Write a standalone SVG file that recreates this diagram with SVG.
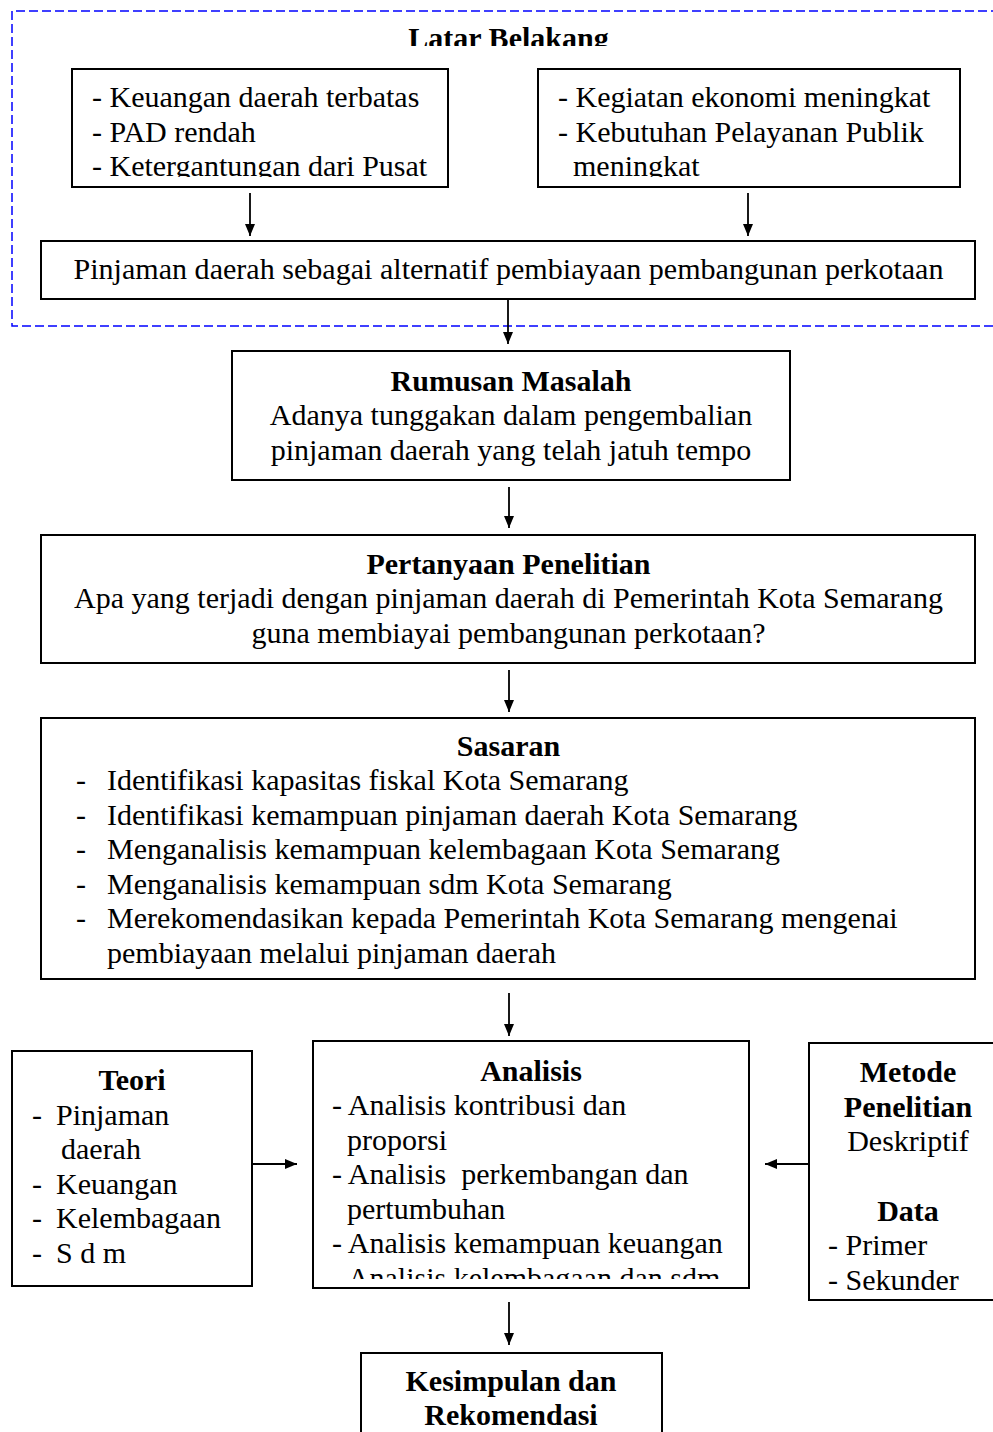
<svg xmlns="http://www.w3.org/2000/svg" width="993" height="1432" viewBox="0 0 993 1432">
<style>
text{font-family:"Liberation Serif","Times New Roman",serif;font-size:30px;fill:#000}
.b{font-weight:bold}
.c{text-anchor:middle}
.box{fill:#fff;stroke:#000;stroke-width:2}
.dash{fill:none;stroke:#0000ff;stroke-width:1.5;stroke-dasharray:9 4}
.arr{stroke:#000;stroke-width:1.8;fill:none;marker-end:url(#ah)}
</style>
<defs>
<marker id="ah" viewBox="0 0 12 10" refX="12" refY="5" markerWidth="12" markerHeight="10" markerUnits="userSpaceOnUse" orient="auto">
<path d="M0,0 L12,5 L0,10 Z" fill="#000"/>
</marker>
<clipPath id="clipLB"><rect x="12" y="11" width="981" height="35"/></clipPath>
<clipPath id="clipB1"><rect x="73" y="70" width="374" height="107"/></clipPath>
<clipPath id="clipB2"><rect x="539" y="70" width="420" height="107"/></clipPath>
<clipPath id="clipAn"><rect x="314" y="1042" width="434" height="237"/></clipPath>
</defs>
<rect width="993" height="1432" fill="#fff"/>

<g id="latar-belakang">
<path class="dash" d="M1000,11 H12 V326 H1000"/>
<text class="b c" x="508.5" y="48" clip-path="url(#clipLB)">Latar Belakang</text>
</g>

<g id="masalah-keuangan">
<rect class="box" x="72" y="69" width="376" height="118"/>
<g clip-path="url(#clipB1)">
<text x="92" y="107">- Keuangan daerah terbatas</text>
<text x="92" y="141.5">- PAD rendah</text>
<text x="92" y="176">- Ketergantungan dari Pusat</text>
</g>
</g>

<g id="kebutuhan">
<rect class="box" x="538" y="69" width="422" height="118"/>
<g clip-path="url(#clipB2)">
<text x="558" y="107">- Kegiatan ekonomi meningkat</text>
<text x="558" y="141.5">- Kebutuhan Pelayanan Publik</text>
<text x="573" y="176">meningkat</text>
</g>
</g>

<g id="pinjaman">
<rect class="box" x="41" y="241" width="934" height="58"/>
<text class="c" x="508.5" y="279" textLength="870" lengthAdjust="spacingAndGlyphs">Pinjaman daerah sebagai alternatif pembiayaan pembangunan perkotaan</text>
</g>

<g id="rumusan">
<rect class="box" x="232" y="351" width="558" height="129"/>
<text class="b c" x="511" y="390.5">Rumusan Masalah</text>
<text class="c" x="511" y="425">Adanya tunggakan dalam pengembalian</text>
<text class="c" x="511" y="459.5">pinjaman daerah yang telah jatuh tempo</text>
</g>

<g id="pertanyaan">
<rect class="box" x="41" y="535" width="934" height="128"/>
<text class="b c" x="508.5" y="573.5">Pertanyaan Penelitian</text>
<text class="c" x="508.5" y="608">Apa yang terjadi dengan pinjaman daerah di Pemerintah Kota Semarang</text>
<text class="c" x="508.5" y="642.5">guna membiayai pembangunan perkotaan?</text>
</g>

<g id="sasaran">
<rect class="box" x="41" y="718" width="934" height="261"/>
<text class="b c" x="508.5" y="755.5">Sasaran</text>
<text x="76" y="790">-</text><text x="107" y="790">Identifikasi kapasitas fiskal Kota Semarang</text>
<text x="76" y="824.5">-</text><text x="107" y="824.5">Identifikasi kemampuan pinjaman daerah Kota Semarang</text>
<text x="76" y="859">-</text><text x="107" y="859">Menganalisis kemampuan kelembagaan Kota Semarang</text>
<text x="76" y="893.5">-</text><text x="107" y="893.5">Menganalisis kemampuan sdm Kota Semarang</text>
<text x="76" y="928">-</text><text x="107" y="928">Merekomendasikan kepada Pemerintah Kota Semarang mengenai</text>
<text x="107" y="962.5">pembiayaan melalui pinjaman daerah</text>
</g>

<g id="teori">
<rect class="box" x="12" y="1051" width="240" height="235"/>
<text class="b c" x="132" y="1090">Teori</text>
<text x="32" y="1124.5">-</text><text x="56" y="1124.5">Pinjaman</text>
<text x="61" y="1159">daerah</text>
<text x="32" y="1193.5">-</text><text x="56" y="1193.5">Keuangan</text>
<text x="32" y="1228">-</text><text x="56" y="1228">Kelembagaan</text>
<text x="32" y="1262.5">-</text><text x="56" y="1262.5">S d m</text>
</g>

<g id="analisis">
<rect class="box" x="313" y="1041" width="436" height="247"/>
<text class="b c" x="531" y="1080.5">Analisis</text>
<g clip-path="url(#clipAn)">
<text x="332" y="1115">- Analisis kontribusi dan</text>
<text x="347" y="1149.5">proporsi</text>
<text x="332" y="1184" xml:space="preserve">- Analisis  perkembangan dan</text>
<text x="347" y="1218.5">pertumbuhan</text>
<text x="332" y="1253">- Analisis kemampuan keuangan</text>
<text x="332" y="1287.5">- Analisis kelembagaan dan sdm</text>
</g>
</g>

<g id="metode">
<rect class="box" x="809" y="1043" width="200" height="257"/>
<text class="b c" x="908" y="1082">Metode</text>
<text class="b c" x="908" y="1116.5">Penelitian</text>
<text class="c" x="908" y="1151">Deskriptif</text>
<text class="b c" x="908" y="1220.5">Data</text>
<text x="828" y="1255">- Primer</text>
<text x="828" y="1289.5">- Sekunder</text>
</g>

<g id="kesimpulan">
<rect class="box" x="361" y="1353" width="301" height="100"/>
<text class="b c" x="511" y="1390.5">Kesimpulan dan</text>
<text class="b c" x="511" y="1425">Rekomendasi</text>
</g>

<g id="connectors">
<line class="arr" x1="250" y1="193" x2="250" y2="236"/>
<line class="arr" x1="748" y1="193" x2="748" y2="236"/>
<line class="arr" x1="508" y1="300" x2="508" y2="344"/>
<line class="arr" x1="509" y1="487" x2="509" y2="528"/>
<line class="arr" x1="509" y1="670" x2="509" y2="712"/>
<line class="arr" x1="509" y1="993" x2="509" y2="1036"/>
<line class="arr" x1="252" y1="1164" x2="297" y2="1164"/>
<line class="arr" x1="809" y1="1164" x2="765" y2="1164"/>
<line class="arr" x1="509" y1="1302" x2="509" y2="1345"/>
</g>
</svg>
